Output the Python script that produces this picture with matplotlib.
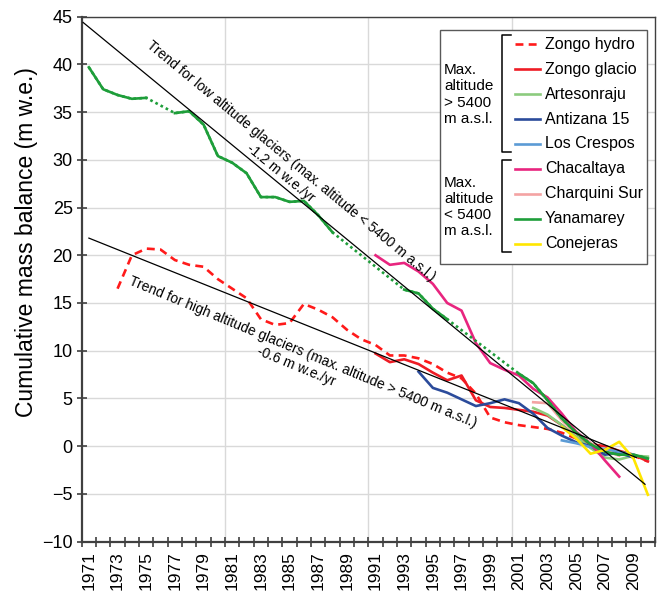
import numpy as np
import matplotlib.pyplot as plt
from matplotlib.lines import Line2D
from matplotlib.patches import Rectangle

plt.rcParams['font.family'] = ['Liberation Sans', 'DejaVu Sans']

nan = np.nan

# series values (m w.e.), one value per year
zongo_hydro_years = list(range(1973, 2011))
zongo_hydro = [16.5, 20.0, 20.7, 20.6, 19.5, 19.0, 18.8, 17.5, 16.5, 15.5,
               13.3, 12.7, 12.9, 14.9, 14.3, 13.5, 12.2, 11.2, 10.6, 9.5,
               9.5, 9.2, 8.6, 7.7, 7.1, 5.5, 3.0, 2.5, 2.2, 2.0,
               1.8, 1.4, 0.8, 0.3, -0.2, -0.6, -1.0, -1.6]

zongo_glacio_years = list(range(1991, 2011))
zongo_glacio = [9.7, 8.8, 9.1, 8.6, 7.7, 6.9, 7.4, 4.8, 4.1, 4.0,
                3.8, 3.6, 3.2, 2.2, 1.0, 0.2, 0.0, -0.5, -0.9, -1.6]

artesonraju_years = list(range(2002, 2011))
artesonraju = [4.0, 3.3, 2.2, 1.0, -0.2, -1.2, -1.4, -1.0, -1.1]

antizana_years = list(range(1994, 2010))
antizana = [7.8, 6.1, 5.6, 4.9, 4.2, 4.5, 4.9, 4.5, 3.4, 1.9,
            1.1, 0.4, 0.0, -0.9, -0.7, -1.2]

crespos_years = list(range(2004, 2010))
crespos = [0.6, 0.3, -0.1, -0.3, -0.6, -0.9]

chacaltaya_years = list(range(1991, 2009))
chacaltaya = [20.0, 19.0, 19.2, 18.3, 17.0, 15.0, 14.2, 10.8, 8.7, 8.0,
              7.4, 6.0, 5.1, 3.4, 1.5, 0.3, -1.5, -3.2]

charquini_years = list(range(2002, 2009))
charquini = [4.6, 4.5, 2.7, 1.3, 0.3, -0.5, -1.0]

yanamarey_years = list(range(1971, 2011))
yanamarey = [39.7, 37.4, 36.8, 36.4, 36.5, nan, 34.9, 35.1, 33.7, 30.4,
             29.7, 28.6, 26.1, 26.1, 25.6, 25.7, 24.2, 22.4, nan, nan,
             nan, nan, 16.4, 16.0, 14.4, 13.3, nan, nan, nan, nan,
             7.6, 6.6, 4.8, 2.9, 1.4, 0.2, -0.6, -0.9, -0.9, -1.3]

conejeras_years = list(range(2004, 2011))
conejeras = [2.0, 0.8, -0.8, -0.4, 0.45, -1.3, -5.1]

# trend lines
low_trend_x = [1970.6, 2009.8]
low_trend_y = [44.4, -4.0]
high_trend_x = [1971.0, 2009.2]
high_trend_y = [21.8, -1.2]

names = ['Zongo hydro', 'Zongo glacio', 'Artesonraju', 'Antizana 15', 'Los Crespos',
         'Chacaltaya', 'Charquini Sur', 'Yanamarey', 'Conejeras']
colors = ['#FF1A1A', '#EE1C25', '#8CCB7E', '#2B4B9B', '#5B9BD5',
          '#E8257F', '#F4A3A3', '#1E9E3A', '#FFE600']
series = [(zongo_hydro_years, zongo_hydro), (zongo_glacio_years, zongo_glacio),
          (artesonraju_years, artesonraju), (antizana_years, antizana),
          (crespos_years, crespos), (chacaltaya_years, chacaltaya),
          (charquini_years, charquini), (yanamarey_years, yanamarey),
          (conejeras_years, conejeras)]

fig = plt.figure(figsize=(6.59, 5.96), dpi=100)
ax = fig.add_axes([0.124, 0.0914, 0.870, 0.8805])

lw = 1.9
for i, (name, col, (xs, ys)) in enumerate(zip(names, colors, series)):
    xs = np.array(xs, dtype=float)
    ys = np.array(ys, dtype=float)
    if name == 'Zongo hydro':
        ax.plot(xs, ys, color=col, lw=lw, dashes=(3, 2), zorder=3 + i)
    elif name == 'Yanamarey':
        # dotted across the missing years, solid where years are consecutive
        ok = ~np.isnan(ys)
        ax.plot(xs[ok], ys[ok], color=col, lw=lw, linestyle=(0, (1, 1.2)), zorder=3 + i)
        ax.plot(xs, ys, color=col, lw=lw, zorder=3 + i)
    else:
        ax.plot(xs, ys, color=col, lw=lw, zorder=3 + i)

ax.plot(low_trend_x, low_trend_y, color='black', lw=0.9, zorder=20)
ax.plot(high_trend_x, high_trend_y, color='black', lw=0.9, zorder=20)

ax.text(1984.72, 29.25,
        'Trend for low altitude glaciers (max. altitude < 5400 m a.s.l.)\n-1.2 m w.e./yr',
        rotation=-39.5, rotation_mode='anchor', ha='center', va='center',
        multialignment='center', fontsize=10, linespacing=1.15, zorder=21)
ax.text(1985.7, 9.1,
        'Trend for high altitude glaciers (max. altitude > 5400 m a.s.l.)\n-0.6 m w.e./yr',
        rotation=-22.5, rotation_mode='anchor', ha='center', va='center',
        multialignment='center', fontsize=10, linespacing=1.15, zorder=21)

# axes
ax.set_xlim(1970.5, 2010.5)
ax.set_ylim(-10, 45)
ax.set_yticks(np.arange(-10, 46, 5))
ax.set_xticks(np.arange(1970.5, 2011, 1.0))
ax.set_xticklabels([])
ax.set_xticks(np.arange(1971, 2010, 2), minor=True)
ax.set_xticklabels([str(y) for y in range(1971, 2010, 2)], minor=True,
                   rotation=90, fontsize=12.5)
ax.tick_params(axis='x', which='major', direction='inout', length=7, width=1.2, color='#404040')
ax.tick_params(axis='x', which='minor', length=0, pad=7)
ax.tick_params(axis='y', direction='inout', length=7, width=1.2, color='#404040',
               labelsize=13, pad=3)
ax.yaxis.grid(True, color='#D9D9D9', lw=1.0)
for gx in [1980.5, 1990.5, 2000.5]:
    ax.axvline(gx, color='#D9D9D9', lw=1.0, zorder=0)
ax.set_axisbelow(True)
for side in ['left', 'bottom']:
    ax.spines[side].set_linewidth(1.6)
    ax.spines[side].set_color('#404040')
for side in ['top', 'right']:
    ax.spines[side].set_linewidth(1.0)
    ax.spines[side].set_color('#404040')

ax.set_ylabel('Cumulative mass balance (m w.e.)', fontsize=16.5)
ax.yaxis.set_label_coords(-0.076, 0.57)

# legend drawn by hand (figure pixels, origin top-left)
W, H = 659.0, 596.0
def fx(x):
    return x / W
def fy(y):
    return 1 - y / H

fig.patches.append(Rectangle((fx(440), fy(264)), (647 - 440) / W, (264 - 30) / H,
                             transform=fig.transFigure, facecolor='white',
                             edgecolor='#595959', lw=1.0, zorder=30))
for i, (name, col) in enumerate(zip(names, colors)):
    yy = 44.3 + 24.9 * i
    kw = dict(dashes=(3, 2)) if name == 'Zongo hydro' else {}
    fig.lines.append(Line2D([fx(514.5), fx(540)], [fy(yy), fy(yy)], color=col, lw=lw,
                            transform=fig.transFigure, zorder=31, **kw))
    fig.text(fx(545), fy(yy), name, fontsize=11.5, va='center', ha='left', zorder=31)

for top, bot in [(35, 152), (160, 252)]:
    fig.lines.append(Line2D([fx(511), fx(502), fx(502), fx(511)],
                            [fy(top), fy(top), fy(bot), fy(bot)], color='black',
                            lw=1.1, transform=fig.transFigure, zorder=31))
fig.text(fx(444), fy(94.5), 'Max.\naltitude\n> 5400\nm a.s.l.', fontsize=11,
         va='center', ha='left', linespacing=1.2, zorder=31)
fig.text(fx(444), fy(207), 'Max.\naltitude\n< 5400\nm a.s.l.', fontsize=11,
         va='center', ha='left', linespacing=1.2, zorder=31)

fig.savefig('out.png', dpi=100)
